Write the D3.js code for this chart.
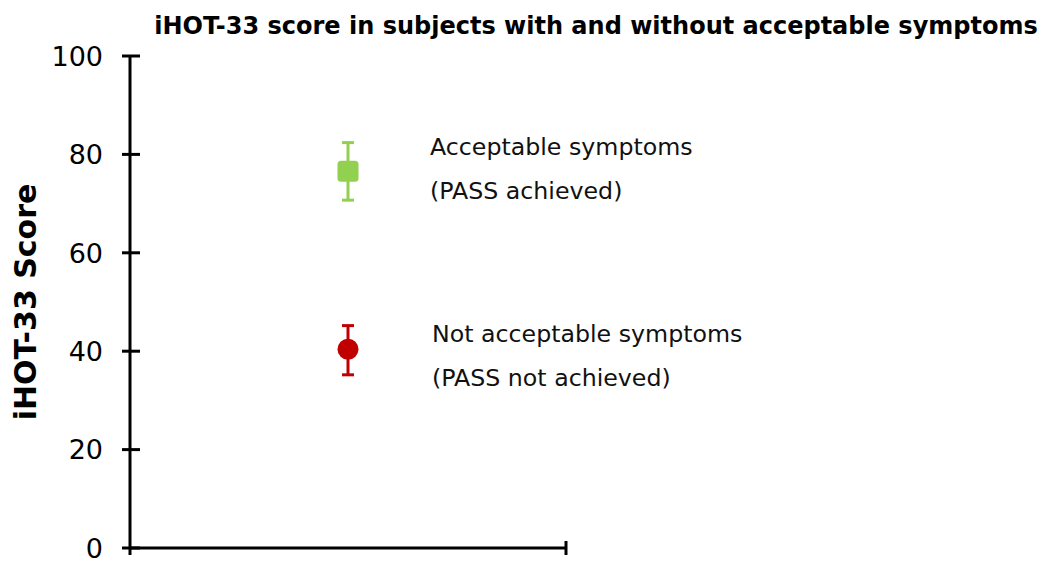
<!DOCTYPE html>
<html>
<head>
<meta charset="utf-8">
<script src="https://cdn.jsdelivr.net/npm/d3@7"></script>
<style>
  html, body { margin: 0; padding: 0; background: #fff; }
  svg { display: block; font-family: "DejaVu Sans", Verdana, sans-serif; }
</style>
</head>
<body>
<svg id="chart" width="1044" height="563"></svg>
<script>
// Groups, mean iHOT-33 scores and error-bar bounds
const groups = ["PASS achieved", "PASS not achieved"];
const means = [76.6, 40.4];
const lower = [70.7, 35.2];
const upper = [82.4, 45.2];
const colors = ["#92d050", "#c00000"];
const shapes = ["square", "circle"];
const labelLines = [
  ["Acceptable symptoms", "(PASS achieved)"],
  ["Not acceptable symptoms", "(PASS not achieved)"]
];
const yTicks = [0, 20, 40, 60, 80, 100];

const svg = d3.select("#chart");

const x = d3.scaleLinear().domain([0, 1]).range([130, 566]);
const y = d3.scaleLinear().domain([0, 100]).range([548, 56]);
const groupX = 0.5;

// Title
svg.append("text")
  .attr("x", 596).attr("y", 34)
  .attr("text-anchor", "middle")
  .attr("font-weight", "bold")
  .attr("font-size", 24)
  .text("iHOT-33 score in subjects with and without acceptable symptoms");

// Y axis with ticks crossing the spine
const yAxis = svg.append("g").attr("transform", `translate(${x(0)},0)`);
yAxis.append("line")
  .attr("x1", 0).attr("x2", 0)
  .attr("y1", y(100)).attr("y2", y(0) + 7)
  .attr("stroke", "#000").attr("stroke-width", 3);
yAxis.selectAll(".tick").data(yTicks).join("line")
  .attr("x1", -8).attr("x2", 10)
  .attr("y1", d => y(d)).attr("y2", d => y(d))
  .attr("stroke", "#000").attr("stroke-width", 3);
yAxis.selectAll(".lbl").data(yTicks).join("text")
  .attr("x", -27).attr("y", d => y(d))
  .attr("dy", "0.36em")
  .attr("text-anchor", "end")
  .attr("font-size", 27)
  .text(d => d);

// X axis
const xAxis = svg.append("g").attr("transform", `translate(0,${y(0)})`);
xAxis.append("line")
  .attr("x1", x(0)).attr("x2", x(1))
  .attr("stroke", "#000").attr("stroke-width", 3);
xAxis.append("line")
  .attr("x1", x(1)).attr("x2", x(1))
  .attr("y1", -7).attr("y2", 7)
  .attr("stroke", "#000").attr("stroke-width", 3);

// Y axis title
svg.append("text")
  .attr("transform", `translate(36,${y(50)}) rotate(-90)`)
  .attr("text-anchor", "middle")
  .attr("font-weight", "bold")
  .attr("font-size", 30)
  .text("iHOT-33 Score");

// Error bars and markers
const pts = groups.map((g, i) => ({ g, mean: means[i], lo: lower[i], hi: upper[i], color: colors[i], shape: shapes[i] }));
const gp = svg.append("g");
pts.forEach(p => {
  const cx = x(groupX);
  gp.append("line")
    .attr("x1", cx).attr("x2", cx)
    .attr("y1", y(p.lo)).attr("y2", y(p.hi))
    .attr("stroke", p.color).attr("stroke-width", 3);
  [p.lo, p.hi].forEach(v => {
    gp.append("line")
      .attr("x1", cx - 6).attr("x2", cx + 6)
      .attr("y1", y(v)).attr("y2", y(v))
      .attr("stroke", p.color).attr("stroke-width", 3);
  });
  if (p.shape === "square") {
    gp.append("rect")
      .attr("x", cx - 10.5).attr("y", y(p.mean) - 10.5)
      .attr("width", 21).attr("height", 21)
      .attr("rx", 3.5)
      .attr("fill", p.color);
  } else {
    gp.append("circle")
      .attr("cx", cx).attr("cy", y(p.mean))
      .attr("r", 10.5)
      .attr("fill", p.color);
  }
});

// Group labels
const labelX = [430, 432];
const labelY = [155, 342];
labelLines.forEach((lines, i) => {
  const t = svg.append("text")
    .attr("font-size", 23.7)
    .attr("fill", "#111");
  lines.forEach((ln, j) => {
    t.append("tspan")
      .attr("x", labelX[i])
      .attr("y", labelY[i] + j * 44)
      .text(ln);
  });
});
</script>
</body>
</html>
